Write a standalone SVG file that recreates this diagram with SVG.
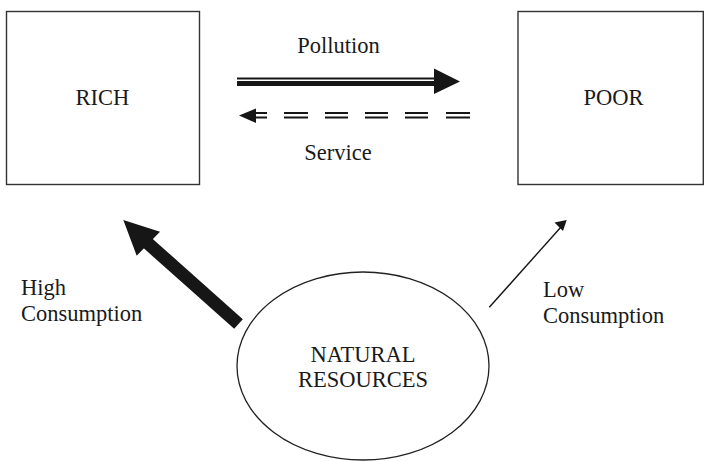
<svg xmlns="http://www.w3.org/2000/svg" width="704" height="461" viewBox="0 0 704 461">
<style>
text{font-family:"Liberation Serif","Times New Roman",serif;font-size:22.5px;fill:#1a1a1a}
.c{text-anchor:middle}
.box{fill:#fff;stroke:#333;stroke-width:1.4}
.ln{stroke:#161616;fill:none}
.hd{fill:#161616;stroke:none}
</style>
<rect width="704" height="461" fill="#fff"/>
<g id="rich"><rect class="box" x="6.5" y="11.5" width="193" height="173"/><text class="c" x="102.5" y="105">RICH</text></g>
<g id="poor"><rect class="box" x="518" y="11.5" width="185.3" height="173"/><text class="c" x="613.5" y="105">POOR</text></g>
<g id="natural-resources"><ellipse cx="363" cy="366" rx="126" ry="94" fill="#fff" stroke="#222" stroke-width="1.3"/><text class="c" x="363" y="362">NATURAL</text><text class="c" x="363" y="387">RESOURCES</text></g>
<g id="connectors">
<g id="pollution">
<line class="ln" x1="237" y1="78.5" x2="436" y2="78.5" stroke-width="2"/>
<line class="ln" x1="237" y1="83.5" x2="436" y2="83.5" stroke-width="5"/>
<polygon class="hd" points="434,68.5 460,81.5 434,94"/>
<text class="c" x="338.5" y="53">Pollution</text>
</g>
<g id="service">
<path class="ln" stroke-width="2" d="M254,113H267M284,113H308M325,113H348M365,113H388M405,113H428M446,113H470M254,117.5H267M284,117.5H308M325,117.5H348M365,117.5H388M405,117.5H428M446,117.5H470"/>
<polygon class="hd" points="239,115.5 256,108.5 256,123"/>
<text class="c" x="338" y="160">Service</text>
</g>
<g id="high">
<line class="ln" x1="147" y1="242.5" x2="238.5" y2="324" stroke-width="13"/>
<polygon class="hd" points="123.3,220 160,231.7 136.7,255.7"/>
<text x="21" y="295">High</text><text x="21" y="321">Consumption</text>
</g>
<g id="low">
<line class="ln" x1="489.3" y1="307.3" x2="561" y2="227" stroke-width="1.4"/>
<polygon class="hd" points="566.7,220 554.5,222.5 563,231"/>
<text x="543" y="297">Low</text><text x="543" y="322.5">Consumption</text>
</g>
</g>
</svg>
